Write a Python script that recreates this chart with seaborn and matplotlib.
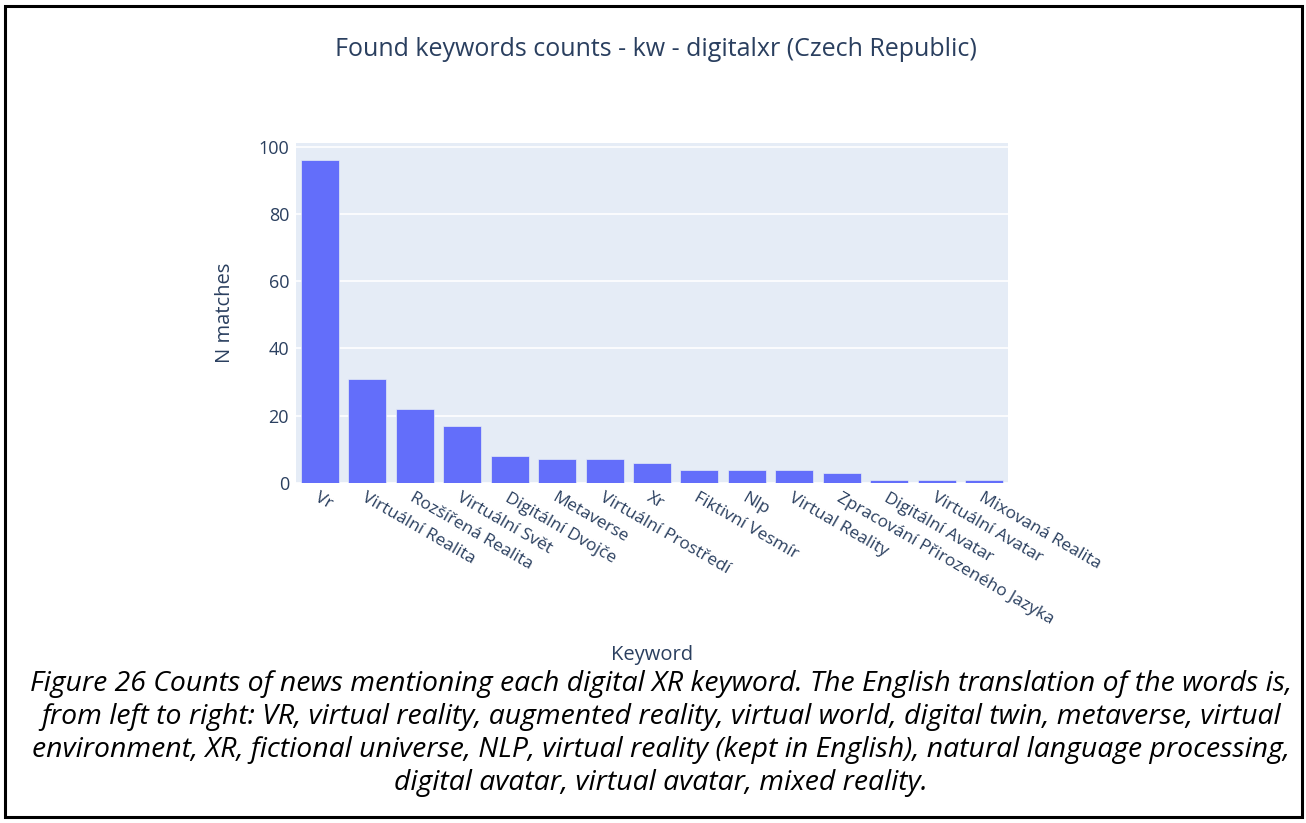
import matplotlib.pyplot as plt
import seaborn as sns
from matplotlib.patches import Rectangle

# keyword counts
keywords = ["Vr", "Virtuální Realita", "Rozšířená Realita", "Virtuální Svět",
            "Digitální Dvojče", "Metaverse", "Virtuální Prostředí", "Xr",
            "Fiktivní Vesmír", "Nlp", "Virtual Reality",
            "Zpracování Přirozeného Jazyka", "Digitální Avatar",
            "Virtuální Avatar", "Mixovaná Realita"]
counts = [96, 31, 22, 17, 8, 7, 7, 6, 4, 4, 4, 3, 1, 1, 1]
y_ticks = [0, 20, 40, 60, 80, 100]

caption_lines = [
    "Figure 26 Counts of news mentioning each digital XR keyword. The English translation of the words is,",
    "from left to right: VR, virtual reality, augmented reality, virtual world, digital twin, metaverse, virtual",
    "environment, XR, fictional universe, NLP, virtual reality (kept in English), natural language processing,",
    "digital avatar, virtual avatar, mixed reality.",
]

text_col = "#2a3f5f"
sns.set_theme(style="darkgrid")
plt.rcParams["font.family"] = ["Open Sans", "DejaVu Sans"]

fig = plt.figure(figsize=(13.06, 8.23), dpi=100)
ax = fig.add_axes([296 / 1306, 1 - 483 / 823, 712 / 1306, 340 / 823])
ax.set_facecolor("#e5ecf6")

sns.barplot(x=keywords, y=counts, color="#636efa", saturation=1, width=0.8,
            edgecolor="#e5ecf6", linewidth=0.5, ax=ax)

ax.set_ylim(0, 101.05)
ax.set_xlim(-0.5, len(keywords) - 0.5)
ax.set_yticks(y_ticks)
ax.grid(axis="y", color="white", linewidth=1.2)
ax.grid(axis="x", visible=False)
ax.set_axisbelow(True)
for s in ax.spines.values():
    s.set_visible(False)
ax.tick_params(axis="y", length=0, colors=text_col, labelsize=13, pad=5)
ax.tick_params(axis="x", length=0, colors=text_col, labelsize=12.5, pad=5)
plt.setp(ax.get_xticklabels(), rotation=-30, ha="left", va="top",
         rotation_mode="anchor")

ax.set_xlabel("")
ax.set_ylabel("")
fig.text(652 / 1306, 1 - 655 / 823, "Keyword", ha="center", va="center",
         fontsize=14.5, color=text_col)
fig.text(225 / 1306, 1 - 313 / 823, "N matches", ha="center", va="center",
         rotation=90, fontsize=14.5, color=text_col)
fig.text(656 / 1306, 1 - 49 / 823, "Found keywords counts - kw - digitalxr (Czech Republic)",
         ha="center", va="center", fontsize=18, color=text_col)

# caption under the chart, same line breaks as the reference
for i, line in enumerate(caption_lines):
    fig.text(661 / 1306, 1 - (684 + 33 * i) / 823, line, ha="center", va="center",
             fontsize=20.4, style="italic", color="black")

fig.add_artist(Rectangle((5 / 1306, 1 - 817 / 823), 1297 / 1306, 811 / 823,
                         transform=fig.transFigure, fill=False,
                         edgecolor="black", linewidth=2.2))

fig.savefig("out.png", dpi=100, facecolor="white")
